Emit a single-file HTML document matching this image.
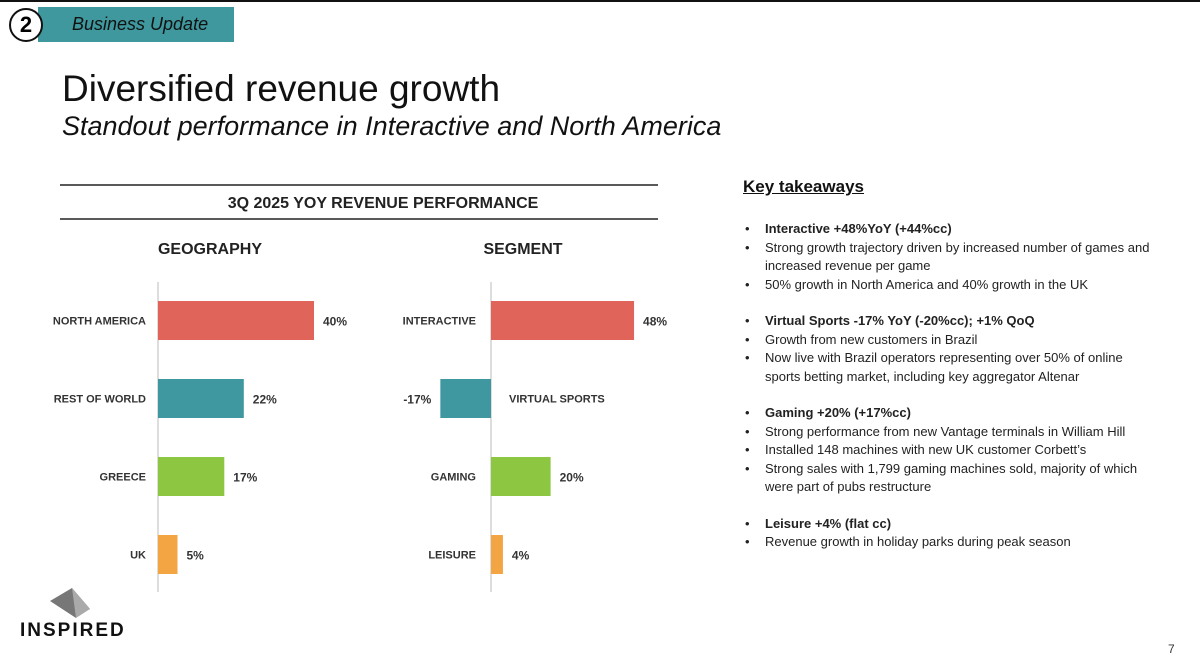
<!DOCTYPE html>
<html><head><meta charset="utf-8"><style>
body{margin:0;width:1200px;height:670px;background:#fff;font-family:"Liberation Sans",sans-serif;position:relative;overflow:hidden}
.abs{position:absolute}
.kt{font-size:13px;color:#222;line-height:18.5px}
.kt ul{margin:0;padding:0;list-style:none}
.kt li{position:relative;padding-left:22px}
.kt li:before{content:"•";position:absolute;left:2px}
.kt b{font-weight:bold}
</style></head><body>
<div class="abs" style="left:0;top:0;width:1200px;height:2px;background:#111"></div>
<div class="abs" style="left:38px;top:7px;width:196px;height:35px;background:#3F989E"></div>
<div class="abs" style="left:72px;top:14px;font-size:18px;font-style:italic;color:#111">Business Update</div>
<div class="abs" style="left:9px;top:8px;width:30px;height:30px;border:2px solid #111;border-radius:50%;background:#fff;text-align:center;line-height:30px;font-size:22px;font-weight:bold">2</div>
<div class="abs" style="left:62px;top:68px;font-size:37px;color:#111">Diversified revenue growth</div>
<div class="abs" style="left:62px;top:111px;font-size:27px;font-style:italic;color:#111">Standout performance in Interactive and North America</div>

<svg class="abs" style="left:0;top:0" width="700" height="670">
<line x1="60" y1="185" x2="658" y2="185" stroke="#222" stroke-width="1.5"/>
<line x1="60" y1="219" x2="658" y2="219" stroke="#222" stroke-width="1.5"/>
<text x="383" y="208" text-anchor="middle" font-size="16" font-weight="bold" fill="#222">3Q 2025 YOY REVENUE PERFORMANCE</text>
<text x="210" y="254" text-anchor="middle" font-size="16" font-weight="bold" fill="#222">GEOGRAPHY</text>
<text x="523" y="254" text-anchor="middle" font-size="16" font-weight="bold" fill="#222">SEGMENT</text>
<line x1="158" y1="282" x2="158" y2="592" stroke="#bbb"/>
<line x1="491" y1="282" x2="491" y2="592" stroke="#bbb"/>
<g id="g1"></g><g id="g2"></g>
</svg>

<div class="abs" style="left:743px;top:177px;font-size:17px;font-weight:bold;text-decoration:underline;color:#111">Key takeaways</div>
<div class="abs kt" style="left:743px;top:220px;width:412px">
<ul><li><b>Interactive +48%YoY (+44%cc)</b></li>
<li>Strong growth trajectory driven by increased number of games and increased revenue per game</li>
<li>50% growth in North America and 40% growth in the UK</li></ul>
<div style="height:18px"></div>
<ul><li><b>Virtual Sports -17% YoY (-20%cc); +1% QoQ</b></li>
<li>Growth from new customers in Brazil</li>
<li>Now live with Brazil operators representing over 50% of online sports betting market, including key aggregator Altenar</li></ul>
<div style="height:18px"></div>
<ul><li><b>Gaming +20% (+17%cc)</b></li>
<li>Strong performance from new Vantage terminals in William Hill</li>
<li>Installed 148 machines with new UK customer Corbett’s</li>
<li>Strong sales with 1,799 gaming machines sold, majority of which were part of pubs restructure</li></ul>
<div style="height:18px"></div>
<ul><li><b>Leisure +4% (flat cc)</b></li>
<li>Revenue growth in holiday parks during peak season</li></ul>
</div>

<svg class="abs" style="left:48px;top:587px" width="46" height="32">
<polygon points="2,14 24,1 42,22 30,26 28,31" fill="#777"/>
<polygon points="24,1 42,22 28,31" fill="#aaa"/>
</svg>
<div class="abs" style="left:20px;top:620px;font-size:19px;font-weight:bold;letter-spacing:2px;color:#111">INSPIRED</div>
<div class="abs" style="left:1168px;top:642px;font-size:12px;color:#333">7</div>

<script>
const geoCats=["NORTH AMERICA","REST OF WORLD","GREECE","UK"];
const geoVals=[40,22,17,5];
const segCats=["INTERACTIVE","VIRTUAL SPORTS","GAMING","LEISURE"];
const segVals=[48,-17,20,4];
const colors=["#E0645A","#3F979F","#8DC641","#F3A443"];
const NS="http://www.w3.org/2000/svg";
function mk(t,a,p){const e=document.createElementNS(NS,t);for(const k in a)e.setAttribute(k,a[k]);p.appendChild(e);return e;}
function draw(gid,cats,vals,x0,scale,labelRight,pfx){
  const g=document.getElementById(gid);
  const xs=v=>x0+v*scale;
  cats.forEach((c,i)=>{
    const yc=320.5+i*78, v=vals[i];
    const x1=Math.min(xs(0),xs(v)), w=Math.abs(xs(v)-xs(0));
    const r=mk('rect',{x:x1,y:yc-19.5,width:w,height:39,fill:colors[i]},g);
    
    
    let lt;
    if(v>=0){lt=mk('text',{x:labelRight,y:yc+4,'text-anchor':'end','font-size':11,'font-weight':'bold',fill:'#333'},g);}
    else{lt=mk('text',{x:x0+18,y:yc+4,'text-anchor':'start','font-size':11,'font-weight':'bold',fill:'#333'},g);}
    lt.textContent=c;
    
    
    const vt=mk('text',{x:v>=0?xs(v)+9:xs(v)-9,y:yc+5,'text-anchor':v>=0?'start':'end','font-size':12,'font-weight':'bold',fill:'#333'},g);
    vt.textContent=v+'%';
    
    
  });
}
draw('g1',geoCats,geoVals,158,3.9,146,'geo');
draw('g2',segCats,segVals,491,2.98,476,'seg');
</script>
</body></html>
